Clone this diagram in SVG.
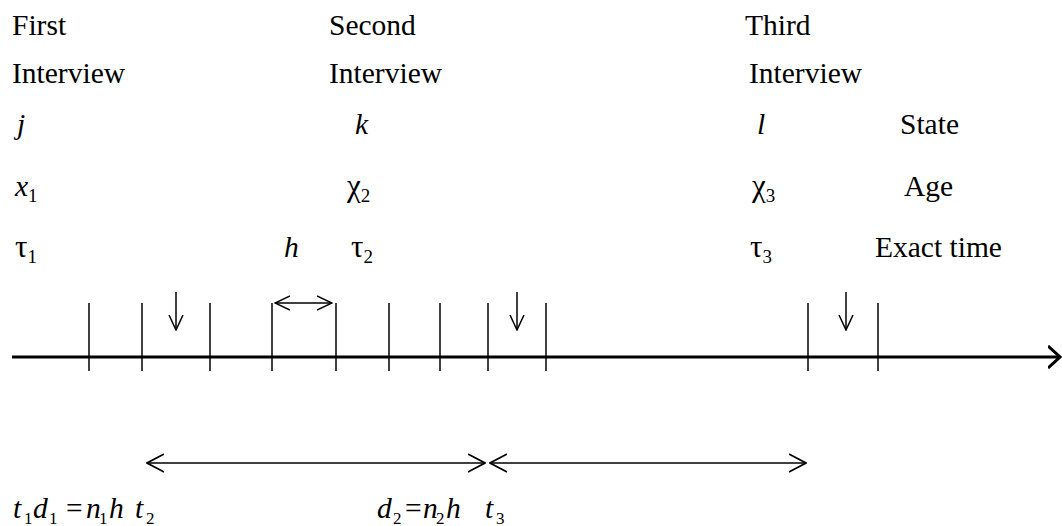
<svg xmlns="http://www.w3.org/2000/svg" width="1062" height="526" viewBox="0 0 1062 526">
<style>
text{font-family:"Liberation Serif","Times New Roman",serif;font-size:29.5px;fill:#000}
.i{font-style:italic}
.g{font-size:31px}
.s{font-size:19px;font-style:normal}
.e{font-size:17px;font-style:normal}
.tick{stroke:#000;stroke-width:1.5}
.ln{stroke:#000;stroke-width:1.5;fill:none}
</style>
<defs>
<marker id="big" markerUnits="userSpaceOnUse" viewBox="0 0 18 20" refX="17" refY="10" markerWidth="18" markerHeight="20" orient="auto-start-reverse">
<path d="M0,1 L17,10 L0,19" fill="none" stroke="#000" stroke-width="1.6"/>
</marker>
<marker id="small" markerUnits="userSpaceOnUse" viewBox="0 0 16 16" refX="15" refY="8" markerWidth="16" markerHeight="16" orient="auto-start-reverse">
<path d="M0,1 L15,8 L0,15" fill="none" stroke="#000" stroke-width="1.5"/>
</marker>
<marker id="axis" markerUnits="userSpaceOnUse" viewBox="0 0 14 24" refX="12" refY="12" markerWidth="14" markerHeight="24" orient="auto">
<path d="M0,1 L12,12 L0,23" fill="none" stroke="#000" stroke-width="3"/>
</marker>
</defs>
<g id="col1">
<text x="12" y="35">First</text>
<text x="12" y="83">Interview</text>
<text x="17" y="134" class="i">j</text>
<text x="15" y="196"><tspan class="i">x</tspan><tspan class="s" dy="6">1</tspan></text>
<text x="15" y="257" class="g">τ<tspan class="s" dy="6">1</tspan></text>
</g>
<g id="col2">
<text x="329" y="35">Second</text>
<text x="329" y="83">Interview</text>
<text x="355" y="134" class="i">k</text>
<text x="347" y="196" class="g">χ<tspan class="s" dy="6">2</tspan></text>
<text x="351" y="257" class="g">τ<tspan class="s" dy="6">2</tspan></text>
<text x="284" y="257" class="i">h</text>
</g>
<g id="col3">
<text x="745" y="35">Third</text>
<text x="749" y="83">Interview</text>
<text x="757" y="134" class="i">l</text>
<text x="752" y="196" class="g">χ<tspan class="s" dy="6">3</tspan></text>
<text x="750" y="257" class="g">τ<tspan class="s" dy="6">3</tspan></text>
</g>
<g id="labels">
<text x="900" y="134">State</text>
<text x="904" y="196">Age</text>
<text x="875" y="257">Exact time</text>
</g>
<g id="connectors">
<line x1="12" y1="357" x2="1060" y2="357" stroke="#000" stroke-width="3" marker-end="url(#axis)"/>
<g class="tick">
<line x1="89" y1="303" x2="89" y2="371"/>
<line x1="142" y1="303" x2="142" y2="371"/>
<line x1="210" y1="303" x2="210" y2="371"/>
<line x1="272" y1="303" x2="272" y2="371"/>
<line x1="336" y1="303" x2="336" y2="371"/>
<line x1="389" y1="303" x2="389" y2="371"/>
<line x1="440" y1="303" x2="440" y2="371"/>
<line x1="488" y1="303" x2="488" y2="371"/>
<line x1="546" y1="303" x2="546" y2="371"/>
<line x1="808" y1="303" x2="808" y2="371"/>
<line x1="878" y1="303" x2="878" y2="371"/>
</g>
<line class="ln" x1="176" y1="292" x2="176" y2="330" marker-end="url(#small)"/>
<line class="ln" x1="517" y1="292" x2="517" y2="330" marker-end="url(#small)"/>
<line class="ln" x1="846" y1="292" x2="846" y2="330" marker-end="url(#small)"/>
<line class="ln" x1="275" y1="303" x2="332" y2="303" marker-start="url(#small)" marker-end="url(#small)"/>
<line class="ln" x1="147" y1="463" x2="485" y2="463" marker-start="url(#big)" marker-end="url(#big)"/>
<line class="ln" x1="490" y1="463" x2="806" y2="463" marker-start="url(#big)" marker-end="url(#big)"/>
</g>
<g id="equations">
<text y="518"><tspan x="13" class="i">t</tspan><tspan x="24" dy="6" class="e">1</tspan><tspan x="33" dy="-6" class="i">d</tspan><tspan x="49" dy="6" class="e">1</tspan><tspan x="66" dy="-6">=</tspan><tspan x="86" class="i">n</tspan><tspan x="99" dy="6" class="e">1</tspan><tspan x="109" dy="-6" class="i">h</tspan><tspan x="135" class="i">t</tspan><tspan x="146" dy="6" class="e">2</tspan></text>
<text y="518"><tspan x="377" class="i">d</tspan><tspan x="393" dy="6" class="e">2</tspan><tspan x="405" dy="-6">=</tspan><tspan x="423" class="i">n</tspan><tspan x="436" dy="6" class="e">2</tspan><tspan x="446" dy="-6" class="i">h</tspan><tspan x="485" class="i">t</tspan><tspan x="496" dy="6" class="e">3</tspan></text>
</g>
</svg>
